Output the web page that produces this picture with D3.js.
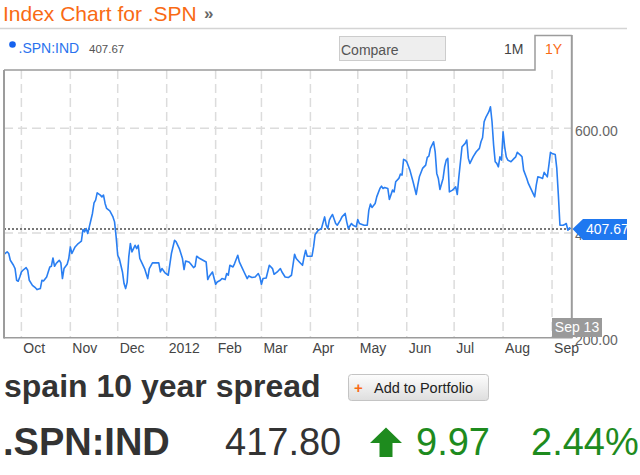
<!DOCTYPE html>
<html><head><meta charset="utf-8">
<script src="https://cdnjs.cloudflare.com/ajax/libs/d3/7.8.5/d3.min.js"></script>
<style>
html,body{margin:0;padding:0;background:#fff;}
svg{display:block;font-family:"Liberation Sans",Arial,Helvetica,sans-serif;}
</style></head><body>
<svg id="c" width="640" height="475"></svg>
<script>
// ---------- data ----------
const dates = [
"2011-09-20","2011-09-22","2011-09-23","2011-09-24","2011-09-26","2011-09-27","2011-09-28","2011-09-29","2011-09-30",
"2011-10-01","2011-10-02","2011-10-04","2011-10-05","2011-10-06","2011-10-08","2011-10-10","2011-10-11","2011-10-13","2011-10-14","2011-10-15","2011-10-17","2011-10-19","2011-10-20","2011-10-21","2011-10-22","2011-10-23","2011-10-24","2011-10-25","2011-10-26","2011-10-27","2011-10-28","2011-10-30","2011-10-31",
"2011-11-01","2011-11-02","2011-11-04","2011-11-06","2011-11-08","2011-11-09","2011-11-10","2011-11-11","2011-11-12","2011-11-13","2011-11-14","2011-11-15","2011-11-16","2011-11-17","2011-11-18","2011-11-20","2011-11-21","2011-11-22","2011-11-23","2011-11-24","2011-11-26","2011-11-28","2011-11-29","2011-11-30",
"2011-12-01","2011-12-02","2011-12-04","2011-12-05","2011-12-06","2011-12-07","2011-12-08","2011-12-09","2011-12-10","2011-12-11","2011-12-12","2011-12-13","2011-12-14","2011-12-15","2011-12-16","2011-12-18","2011-12-20","2011-12-21","2011-12-23","2011-12-25","2011-12-27","2011-12-28","2011-12-29","2011-12-31",
"2012-01-02","2012-01-04","2012-01-06","2012-01-07","2012-01-09","2012-01-11","2012-01-12","2012-01-13","2012-01-15","2012-01-16","2012-01-18","2012-01-19","2012-01-20","2012-01-22","2012-01-24","2012-01-26","2012-01-27","2012-01-28","2012-01-30",
"2012-02-01","2012-02-02","2012-02-04","2012-02-05","2012-02-07","2012-02-08","2012-02-09","2012-02-10","2012-02-12","2012-02-13","2012-02-15","2012-02-16","2012-02-18","2012-02-19","2012-02-21","2012-02-22","2012-02-24","2012-02-26","2012-02-28","2012-02-29",
"2012-03-01","2012-03-02","2012-03-04","2012-03-06","2012-03-08","2012-03-09","2012-03-11","2012-03-13","2012-03-14","2012-03-16","2012-03-18","2012-03-20","2012-03-22","2012-03-23","2012-03-25","2012-03-27","2012-03-28","2012-03-29","2012-03-30",
"2012-04-02","2012-04-03","2012-04-04","2012-04-06","2012-04-08","2012-04-10","2012-04-11","2012-04-12","2012-04-13","2012-04-14","2012-04-15","2012-04-17","2012-04-18","2012-04-20","2012-04-21","2012-04-23","2012-04-24","2012-04-25","2012-04-27","2012-04-28","2012-04-30",
"2012-05-01","2012-05-02","2012-05-05","2012-05-07","2012-05-08","2012-05-09","2012-05-10","2012-05-12","2012-05-13","2012-05-15","2012-05-16","2012-05-17","2012-05-18","2012-05-20","2012-05-21","2012-05-23","2012-05-24","2012-05-25","2012-05-27","2012-05-28","2012-05-29","2012-05-30","2012-05-31",
"2012-06-01","2012-06-03","2012-06-05","2012-06-07","2012-06-08","2012-06-09","2012-06-11","2012-06-13","2012-06-14","2012-06-15","2012-06-16","2012-06-18","2012-06-19","2012-06-20","2012-06-21","2012-06-22","2012-06-24","2012-06-25","2012-06-26","2012-06-27","2012-06-28","2012-06-30",
"2012-07-01","2012-07-02","2012-07-03","2012-07-04","2012-07-05","2012-07-06","2012-07-08","2012-07-09","2012-07-10","2012-07-11","2012-07-12","2012-07-13","2012-07-15","2012-07-17","2012-07-18","2012-07-19","2012-07-20","2012-07-21","2012-07-23","2012-07-24","2012-07-25","2012-07-26","2012-07-27","2012-07-28","2012-07-29","2012-07-30","2012-07-31",
"2012-08-01","2012-08-02","2012-08-03","2012-08-04","2012-08-06","2012-08-08","2012-08-09","2012-08-10","2012-08-12","2012-08-13","2012-08-14","2012-08-16","2012-08-17","2012-08-19","2012-08-21","2012-08-22","2012-08-23","2012-08-25","2012-08-26","2012-08-27","2012-08-29","2012-08-30","2012-08-31",
"2012-09-01","2012-09-03","2012-09-04","2012-09-05","2012-09-06","2012-09-08","2012-09-09","2012-09-10","2012-09-11","2012-09-12","2012-09-13"
];
const values = [
359.2,363.6,360.6,347.7,338.1,331.8,309.4,307.5,315.7,
325.3,328.6,333.7,328.6,309.4,299.8,294.7,291.6,293.5,309.4,308.1,315.7,334.9,336.2,352.1,336.2,341.4,344.5,347.7,342.6,312.7,331.8,340.1,351.0,
373.2,360.6,373.2,379.7,384.1,406.5,401.9,408.4,398.9,411.5,424.3,437.2,457.5,462.6,476.6,472.2,468.9,472.2,456.3,446.7,442.1,430.6,421.1,392.3,
357.3,351.0,325.3,303.1,293.5,306.0,354.0,379.7,363.6,370.1,376.4,370.1,376.4,351.0,344.5,331.8,312.7,331.8,342.6,342.6,342.6,325.3,331.8,323.4,
319.0,360.6,386.0,382.8,370.1,351.0,329.9,346.4,344.5,341.4,333.7,336.2,355.4,351.0,347.7,344.5,310.8,317.1,325.3,
301.8,306.2,309.4,312.7,310.8,322.3,319.0,338.1,334.9,341.4,357.3,344.5,331.8,325.3,312.7,317.7,314.6,315.7,322.3,315.7,
301.8,312.7,313.8,338.1,331.8,320.9,325.3,331.8,325.3,315.7,314.6,319.0,359.2,351.0,344.5,338.1,354.0,366.9,355.4,
355.4,373.2,397.0,405.2,408.4,430.6,414.7,408.4,424.3,430.6,435.2,418.0,414.7,424.3,430.6,437.2,421.1,408.4,418.0,414.7,411.5,
425.7,418.0,414.7,414.7,443.5,455.0,448.6,456.3,468.9,485.0,489.4,485.0,486.9,485.0,464.0,481.8,478.5,497.7,504.2,512.4,510.5,540.6,539.2,
536.0,520.1,497.7,473.5,491.3,507.2,523.3,529.6,544.4,546.9,561.6,574.3,555.1,513.8,504.2,483.0,504.2,526.4,539.2,542.5,478.5,481.8,
485.0,488.1,473.5,507.2,536.0,564.7,571.2,577.5,542.5,532.9,539.2,545.5,555.1,561.6,574.3,581.9,612.6,620.2,631.7,641.3,612.6,567.9,536.0,532.9,526.4,545.5,539.2,
593.4,564.7,545.5,539.2,536.0,542.5,545.5,554.0,548.8,545.5,520.1,504.2,494.6,481.8,468.9,491.3,507.2,505.3,504.2,515.7,507.2,529.6,554.0,
552.0,550.1,523.3,472.2,414.7,414.7,416.1,418.0,405.2,409.6,407.67
];
const monthLabels = ["Oct","Nov","Dec","2012","Feb","Mar","Apr","May","Jun","Jul","Aug","Sep"];
const yTicks = [200, 400, 600];
const yTickLabels = ["200.00","400.00","600.00"];
const domainStart = "2011-09-20", domainEnd = "2012-09-13";
const yMax = 711.5;
const lastValue = 407.67;
const lastValueLabel = "407.67";
const lastDateLabel = "Sep 13";
const seriesName = ".SPN:IND";
const titleText = "Index Chart for .SPN";
const rangeButtons = ["1M","1Y"];
const indexName = "spain 10 year spread";
const quotePrice = "417.80", quoteChange = "9.97", quotePct = "2.44%";

// ---------- drawing ----------
const svg = d3.select("#c");
const parse = d3.timeParse("%Y-%m-%d");
const data = dates.map((d,i)=>({date:parse(d), value:values[i]}));
const P = {left:4, right:571.5, top:70, bottom:337.5};
const x = d3.scaleTime().domain([parse(domainStart), parse(domainEnd)]).range([P.left, 571]);
const y = d3.scaleLinear().domain([200, yMax]).range([P.bottom, P.top]);

const defs = svg.append("defs");
defs.append("clipPath").attr("id","plotclip").append("rect")
  .attr("x",P.left).attr("y",P.top).attr("width",P.right-P.left).attr("height",P.bottom-P.top);
defs.append("clipPath").attr("id","wclip").append("rect")
  .attr("x",0).attr("y",0).attr("width",627).attr("height",475);
const grad = defs.append("linearGradient").attr("id","btn").attr("x1",0).attr("y1",0).attr("x2",0).attr("y2",1);
grad.append("stop").attr("offset","0%").attr("stop-color","#fdfdfd");
grad.append("stop").attr("offset","100%").attr("stop-color","#dedede");

// header
svg.append("text").attr("x",3).attr("y",21).attr("font-size",21).attr("fill","#f96a14").text(titleText);
svg.append("text").attr("x",204).attr("y",19).attr("font-size",17).attr("font-weight","bold").attr("fill","#666").text("\u00bb");
svg.append("line").attr("x1",0).attr("x2",627).attr("y1",28.5).attr("y2",28.5).attr("stroke","#d4d4d4").attr("stroke-width",1.5);

// legend
svg.append("circle").attr("cx",12.5).attr("cy",44.5).attr("r",3.3).attr("fill","#1662ee");
svg.append("text").attr("x",18.5).attr("y",52.5).attr("font-size",14).attr("fill","#2a72ee").text(seriesName);
svg.append("text").attr("x",89).attr("y",52.5).attr("font-size",11.5).attr("fill","#555").text(lastValueLabel);

// compare box
svg.append("rect").attr("x",339.5).attr("y",36.5).attr("width",106).attr("height",24)
  .attr("fill","#eee").attr("stroke","#ccc");
svg.append("text").attr("x",341).attr("y",55).attr("font-size",14).attr("fill","#555").text("Compare");

// range buttons
svg.append("text").attr("x",504).attr("y",54).attr("font-size",14).attr("fill","#444").text(rangeButtons[0]);
svg.append("text").attr("x",545).attr("y",54).attr("font-size",14).attr("fill","#f96a14").text(rangeButtons[1]);

// gridlines
const months = d3.timeMonth.range(parse("2011-10-01"), parse("2012-09-02"));
const grid = svg.append("g");
grid.selectAll("line.v").data(months).join("line")
  .attr("x1",d=>x(d)).attr("x2",d=>x(d)).attr("y1",P.top).attr("y2",P.bottom)
  .attr("stroke","#dcdcdc").attr("stroke-width",1.5).attr("stroke-dasharray","9,5");
grid.selectAll("line.h").data(yTicks.slice(1)).join("line")
  .attr("x1",P.left).attr("x2",P.right).attr("y1",d=>y(d)).attr("y2",d=>y(d))
  .attr("stroke","#dcdcdc").attr("stroke-width",1.5).attr("stroke-dasharray","9,5");

// last value dotted line
svg.append("line").attr("x1",P.left).attr("x2",P.right).attr("y1",y(lastValue)).attr("y2",y(lastValue))
  .attr("stroke","#777").attr("stroke-width",2).attr("stroke-dasharray","2,2");

// series line
svg.append("path").datum(data).attr("clip-path","url(#plotclip)")
  .attr("fill","none").attr("stroke","#2a7ff2").attr("stroke-width",1.6).attr("stroke-linejoin","round")
  .attr("d", d3.line().x(d=>x(d.date)).y(d=>y(d.value)));

// borders
const bc = "#9c9c9c";
svg.append("line").attr("x1",P.left).attr("x2",P.left).attr("y1",P.top).attr("y2",338.5).attr("stroke",bc).attr("stroke-width",2);
svg.append("line").attr("x1",P.left).attr("x2",572.5).attr("y1",337.8).attr("y2",337.8).attr("stroke",bc).attr("stroke-width",1.5);
svg.append("path").attr("d",`M${P.left},70 H535 V35.5 H571.8`).attr("fill","none").attr("stroke",bc).attr("stroke-width",1.5);
svg.append("line").attr("x1",571.8).attr("x2",571.8).attr("y1",35).attr("y2",338).attr("stroke",bc).attr("stroke-width",2);

// x labels
svg.append("g").selectAll("text").data(months).join("text")
  .attr("x",d=>x(d)+2).attr("y",353).attr("font-size",14).attr("fill","#444")
  .text((d,i)=>monthLabels[i]);

// y labels
svg.append("g").selectAll("text").data(yTicks).join("text")
  .attr("x",575).attr("y",d=>y(d)+7.4).attr("font-size",14).attr("fill","#666")
  .text((d,i)=>yTickLabels[i]);

// last date box
svg.append("rect").attr("x",552).attr("y",318).attr("width",50).attr("height",19).attr("fill","#9a9a9a");
svg.append("text").attr("x",577).attr("y",332.3).attr("text-anchor","middle").attr("font-size",14).attr("fill","#fff").text(lastDateLabel);

// last value marker
const yv = y(lastValue);
const lv = svg.append("g").attr("clip-path","url(#wclip)");
lv.append("path").attr("d",`M572.5,${yv} L583,${yv-10} H640 V${yv+11} H583 Z`).attr("fill","#1f78f0");
lv.append("text").attr("x",586).attr("y",yv+5.2).attr("font-size",14).attr("fill","#fff").text(lastValueLabel);

// bottom quote area
svg.append("text").attr("x",4).attr("y",397).attr("font-size",32).attr("font-weight","bold").attr("fill","#333").text(indexName);
svg.append("rect").attr("x",348.5).attr("y",374.5).attr("width",140).attr("height",26).attr("rx",3)
  .attr("fill","url(#btn)").attr("stroke","#c4c4c4");
svg.append("text").attr("x",354).attr("y",392.5).attr("font-size",15).attr("font-weight","bold").attr("fill","#f96a14").text("+");
svg.append("text").attr("x",374).attr("y",392.5).attr("font-size",14.5).attr("fill","#222").text("Add to Portfolio");

svg.append("text").attr("x",3).attr("y",455).attr("font-size",38).attr("font-weight","bold").attr("fill","#333").text(seriesName);
svg.append("text").attr("x",225).attr("y",455).attr("font-size",38).attr("fill","#333").text(quotePrice);
const g = "#1e8b1e";
svg.append("path").attr("d","M370,443 L386,427.5 L402,443 H392.5 V457 H379.5 V443 Z").attr("fill",g);
svg.append("text").attr("x",416).attr("y",455).attr("font-size",38).attr("fill",g).text(quoteChange);
svg.append("text").attr("x",531).attr("y",455).attr("font-size",38).attr("fill",g).text(quotePct);
</script>
</body></html>
